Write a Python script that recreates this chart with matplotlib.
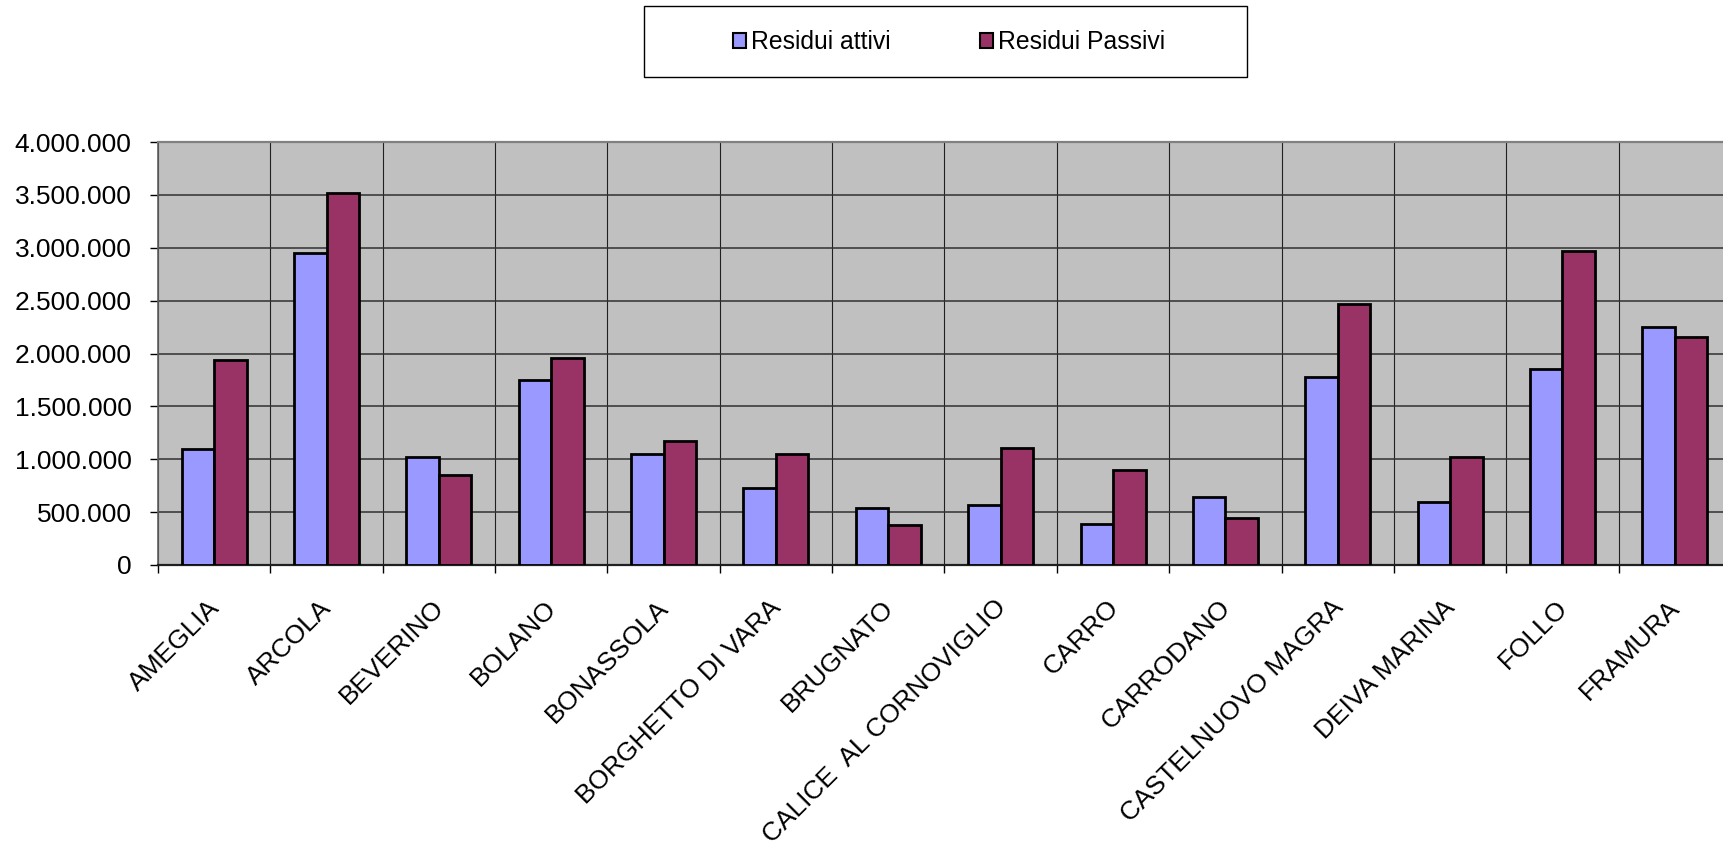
import matplotlib
matplotlib.use('Agg')
import matplotlib.pyplot as plt
import matplotlib.transforms as mtransforms
import numpy as np
from matplotlib.patches import Rectangle, Patch

categories = ['AMEGLIA', 'ARCOLA', 'BEVERINO', 'BOLANO', 'BONASSOLA',
              'BORGHETTO DI VARA', 'BRUGNATO', 'CALICE  AL CORNOVIGLIO',
              'CARRO', 'CARRODANO', 'CASTELNUOVO MAGRA', 'DEIVA MARINA',
              'FOLLO', 'FRAMURA']
residui_attivi = [1094000, 2953000, 1021000, 1749000, 1053000, 731000, 539000,
                  567000, 388000, 640000, 1775000, 599000, 1857000, 2254000]
residui_passivi = [1940000, 3515000, 854000, 1961000, 1169000, 1047000, 381000,
                   1110000, 898000, 441000, 2468000, 1024000, 2972000, 2153000]
series_names = ['Residui attivi', 'Residui Passivi']
y_ticks = [0, 500000, 1000000, 1500000, 2000000, 2500000, 3000000, 3500000, 4000000]

plt.rcParams['font.family'] = ['Liberation Sans', 'DejaVu Sans']

W, H = 1724, 849
fig = plt.figure(figsize=(W / 100, H / 100), dpi=100)
fig.patch.set_facecolor('white')

left, right, top, bottom = 158, 1731, 142, 565
ax = fig.add_axes([left / W, 1 - bottom / H, (right - left) / W, (bottom - top) / H])
ax.set_facecolor('#C0C0C0')

c_blue = '#9999FF'
c_red = '#993366'
x = np.arange(len(categories))
bw = 0.289
ax.bar(x - bw / 2, residui_attivi, bw, color=c_blue, edgecolor='black', linewidth=2, zorder=3)
ax.bar(x + bw / 2, residui_passivi, bw, color=c_red, edgecolor='black', linewidth=2, zorder=3)

ax.set_xlim(-0.5, len(categories) - 0.5)
ax.set_ylim(0, 4000000)

ax.set_yticks(y_ticks)
ax.set_yticklabels([f"{v:,}".replace(',', '.') for v in y_ticks], fontsize=19)
ax.tick_params(axis='y', direction='out', length=6, width=1, pad=13, color='black')

ax.set_xticks(x)
ax.set_xticklabels(categories, rotation=45, ha='right', va='top',
                   rotation_mode='anchor', fontsize=19)
ax.tick_params(axis='x', which='major', length=0, pad=22)
offset = mtransforms.ScaledTranslation(-7 / 100, 0, fig.dpi_scale_trans)
for lbl in ax.get_xticklabels():
    lbl.set_transform(lbl.get_transform() + offset)
ax.set_xticks(np.arange(-0.5, len(categories), 1.0), minor=True)
ax.tick_params(axis='x', which='minor', direction='out', length=6, width=1, color='black')

ax.yaxis.grid(True, color='#303030', linewidth=1.1, zorder=1)
ax.xaxis.grid(True, which='minor', color='#202020', linewidth=0.8, zorder=1)
ax.xaxis.grid(False, which='major')
ax.set_axisbelow(True)

ax.spines['top'].set_color('#808080')
ax.spines['top'].set_linewidth(1.6)
ax.spines['left'].set_color('#606060')
ax.spines['left'].set_linewidth(1.2)
ax.spines['bottom'].set_color('#202020')
ax.spines['bottom'].set_linewidth(1.6)
ax.spines['right'].set_visible(False)

# legend
fig.patches.append(Rectangle((644 / W, 1 - 77 / H), 603 / W, 71 / H,
                             transform=fig.transFigure, fill=False,
                             edgecolor='black', linewidth=1))
handles = [Patch(facecolor=c_blue, edgecolor='black', linewidth=1.5, label=series_names[0]),
           Patch(facecolor=c_red, edgecolor='black', linewidth=1.5, label=series_names[1])]
fig.legend(handles=handles, loc='center', bbox_to_anchor=(949 / W, 1 - 42 / H),
           ncol=2, frameon=False, fontsize=17.8, handlelength=0.53, handleheight=0.53,
           handletextpad=0.2, columnspacing=3.6)

fig.savefig('out.png', dpi=100)
